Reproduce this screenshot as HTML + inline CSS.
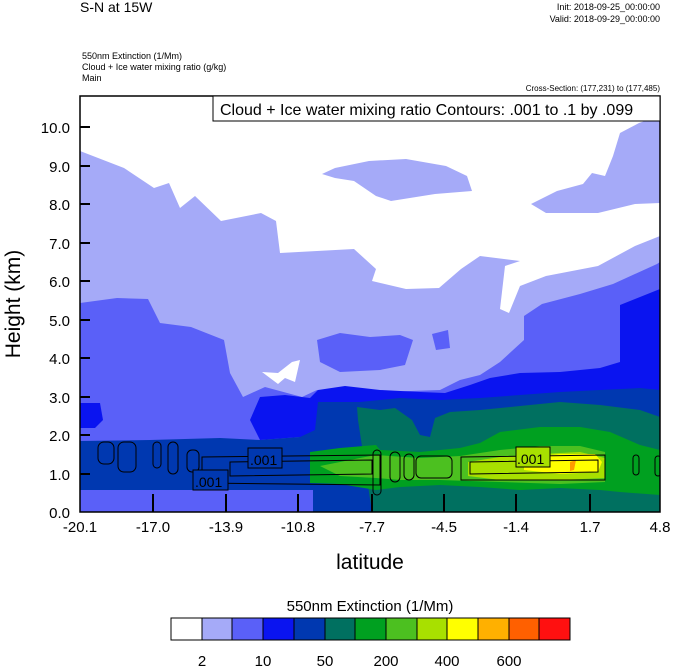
<!DOCTYPE html>
<html><head><meta charset="utf-8"><style>body{margin:0;background:#fff}svg{display:block}</style></head><body>
<svg width="674" height="668" xmlns="http://www.w3.org/2000/svg" font-family="Liberation Sans, sans-serif">
<defs><clipPath id="c"><rect x="80" y="96" width="580" height="416"/></clipPath></defs>
<g clip-path="url(#c)">
<rect x="80" y="96" width="580" height="416" fill="#a5aaf8"/>
<polygon fill="#fff" points="80,96 80,151 124,168 154,188 169,183 180,208 195,196 221,221 261,213 276,221 280,253 354,249 376,269 372,281 406,289 439,288 461,269 480,256 520,261 505,266 500,309 509,313 520,286 546,276 598,266 635,246 660,236 660,96"/>
<polygon fill="#a5aaf8" points="322,174 335,168 369,161 406,159 446,166 467,176 472,191 435,194 391,201 376,196 354,181 335,178"/>
<polygon fill="#a5aaf8" points="531,204 557,191 583,184 592,173 605,176 613,156 620,133 639,123 660,116 660,203 635,204 598,213 546,213"/>
<polygon fill="#5a60f8" points="80,303 117,298 148,299 160,323 191,327 224,340 230,373 243,397 265,387 302,397 317,390 380,392 440,390 460,380 480,375 500,362 524,340 524,316 542,304 580,294 613,284 657,264 660,262 660,512 80,512"/>
<polygon fill="#5a60f8" points="317,340 340,333 370,337 400,335 413,340 405,365 380,370 340,372 320,362"/>
<polygon fill="#5a60f8" points="432,334 448,330 450,348 436,350"/>
<polygon fill="#fff" points="262,372 278,373 292,362 300,360 295,382 285,378 278,384"/>
<polygon fill="#0a14f0" points="80,403 100,403 103,420 95,428 80,428"/>
<polygon fill="#0a14f0" points="250,420 260,397 285,395 310,398 318,390 345,386 380,390 420,392 445,393 470,385 490,378 520,373 560,372 600,368 620,362 620,305 635,299 660,289 660,512 320,512 313,440 300,437 260,440"/>
<polygon fill="#0038b0" points="80,441 150,440 220,438 260,440 300,437 315,430 318,402 360,402 400,398 440,400 480,398 520,395 560,392 600,390 640,388 660,390 660,512 313,512 313,490 80,490"/>
<polygon fill="#007060" points="372,512 358,420 357,407 380,410 395,408 412,420 420,435 430,437 435,418 450,412 480,410 520,406 560,402 600,405 640,410 660,417 660,512"/>
<polygon fill="#00a020" points="310,452 340,448 376,445 380,450 420,452 460,448 480,443 500,432 540,427 580,427 610,432 640,445 660,450 660,495 620,492 600,490 560,488 520,490 480,487 440,485 400,487 376,490 340,484 310,483"/>
<polygon fill="#4cc020" points="320,466 360,458 376,455 420,458 460,456 500,450 540,446 580,446 605,452 605,482 560,484 500,482 440,480 400,480 376,478 340,476"/>
<polygon fill="#a8e000" points="468,462 500,457 540,454 580,452 605,458 605,478 560,480 500,480 468,476"/>
<polygon fill="#ffff00" points="524,458 560,454 595,454 602,462 598,472 560,474 524,470"/>
<polygon fill="#ff9a00" points="570,462 576,460 574,470 570,471"/>
<g fill="none" stroke="#000" stroke-width="1">
<path d="M202,457 L380,455 L380,485 L202,483 Z"/>
<path d="M230,462 L372,460 L372,474 L230,476 Z"/>
<path d="M461,457 L605,455 L605,480 L461,480 Z"/>
<path d="M470,462 L598,460 L598,472 L470,474 Z"/>
<rect x="98" y="442" width="16" height="22" rx="6"/>
<rect x="118" y="442" width="18" height="30" rx="6"/>
<rect x="153" y="442" width="8" height="26" rx="4"/>
<rect x="168" y="442" width="10" height="32" rx="5"/>
<rect x="187" y="450" width="12" height="22" rx="5"/>
<rect x="373" y="450" width="8" height="45" rx="4"/>
<rect x="390" y="452" width="10" height="30" rx="5"/>
<rect x="404" y="454" width="10" height="26" rx="5"/>
<rect x="416" y="456" width="36" height="22" rx="5"/>
<rect x="633" y="455" width="6" height="20" rx="3"/>
<rect x="655" y="456" width="6" height="20" rx="3"/>
</g>
<g font-size="14" fill="#000">
<rect x="248" y="448" width="34" height="20" fill="#0038b0" stroke="#000"/><text x="250" y="465">.001</text>
<rect x="193" y="470" width="35" height="20" fill="#0038b0" stroke="#000"/><text x="195" y="487">.001</text>
<rect x="516" y="447" width="34" height="20" fill="#a8e000" stroke="#000"/><text x="517" y="464">.001</text>
</g>
</g>
<rect x="80" y="96" width="580" height="416" fill="none" stroke="#000" stroke-width="1.5"/>
<rect x="213" y="96" width="447" height="25" fill="#fff" stroke="#000"/>
<text x="220" y="115" font-size="16">Cloud + Ice water mixing ratio Contours: .001 to .1 by .099</text>
<g stroke="#000" stroke-width="2">
<line x1="80" y1="127" x2="90" y2="127"/><line x1="80" y1="166" x2="90" y2="166"/><line x1="80" y1="204" x2="90" y2="204"/><line x1="80" y1="243" x2="90" y2="243"/><line x1="80" y1="281" x2="90" y2="281"/><line x1="80" y1="320" x2="90" y2="320"/><line x1="80" y1="358" x2="90" y2="358"/><line x1="80" y1="397" x2="90" y2="397"/><line x1="80" y1="435" x2="90" y2="435"/><line x1="80" y1="474" x2="90" y2="474"/>
<line x1="153" y1="512" x2="153" y2="494"/><line x1="226" y1="512" x2="226" y2="494"/><line x1="298" y1="512" x2="298" y2="494"/><line x1="372" y1="512" x2="372" y2="494"/><line x1="444" y1="512" x2="444" y2="494"/><line x1="516" y1="512" x2="516" y2="494"/><line x1="590" y1="512" x2="590" y2="494"/>
</g>
<g font-size="15" text-anchor="end">
<text x="70" y="133">10.0</text><text x="70" y="172">9.0</text><text x="70" y="210">8.0</text><text x="70" y="249">7.0</text><text x="70" y="287">6.0</text><text x="70" y="326">5.0</text><text x="70" y="364">4.0</text><text x="70" y="403">3.0</text><text x="70" y="441">2.0</text><text x="70" y="480">1.0</text><text x="70" y="518">0.0</text>
</g>
<g font-size="15" text-anchor="middle">
<text x="80" y="532">-20.1</text><text x="153" y="532">-17.0</text><text x="226" y="532">-13.9</text><text x="298" y="532">-10.8</text><text x="372" y="532">-7.7</text><text x="444" y="532">-4.5</text><text x="516" y="532">-1.4</text><text x="590" y="532">1.7</text><text x="660" y="532">4.8</text>
</g>
<text x="370" y="569" font-size="21" text-anchor="middle">latitude</text>
<text transform="translate(20,304) rotate(-90)" font-size="21" text-anchor="middle">Height (km)</text>
<text x="80" y="12" font-size="14">S-N at 15W</text>
<text x="660" y="10" font-size="9" text-anchor="end">Init: 2018-09-25_00:00:00</text>
<text x="660" y="22" font-size="9" text-anchor="end">Valid: 2018-09-29_00:00:00</text>
<text x="82" y="59" font-size="9">550nm Extinction   (1/Mm)</text>
<text x="82" y="70" font-size="9">Cloud + Ice water mixing ratio   (g/kg)</text>
<text x="82" y="81" font-size="9">Main</text>
<text x="660" y="91" font-size="8" text-anchor="end">Cross-Section: (177,231) to (177,485)</text>
<text x="370" y="611" font-size="15" text-anchor="middle">550nm Extinction  (1/Mm)</text>
<g stroke="#000" stroke-width="1">
<rect x="171" y="618" width="31" height="22" fill="#fff"/>
<rect x="202" y="618" width="30" height="22" fill="#a5aaf8"/>
<rect x="232" y="618" width="31" height="22" fill="#5a60f8"/>
<rect x="263" y="618" width="31" height="22" fill="#0a14f0"/>
<rect x="294" y="618" width="31" height="22" fill="#0038b0"/>
<rect x="325" y="618" width="30" height="22" fill="#007060"/>
<rect x="355" y="618" width="31" height="22" fill="#00a020"/>
<rect x="386" y="618" width="31" height="22" fill="#4cc020"/>
<rect x="417" y="618" width="30" height="22" fill="#a8e000"/>
<rect x="447" y="618" width="31" height="22" fill="#ffff00"/>
<rect x="478" y="618" width="31" height="22" fill="#ffb000"/>
<rect x="509" y="618" width="30" height="22" fill="#ff6000"/>
<rect x="539" y="618" width="31" height="22" fill="#ff1010"/>
</g>
<g font-size="15" text-anchor="middle">
<text x="202" y="666">2</text><text x="263" y="666">10</text><text x="325" y="666">50</text><text x="386" y="666">200</text><text x="447" y="666">400</text><text x="509" y="666">600</text>
</g>
</svg>
</body></html>
